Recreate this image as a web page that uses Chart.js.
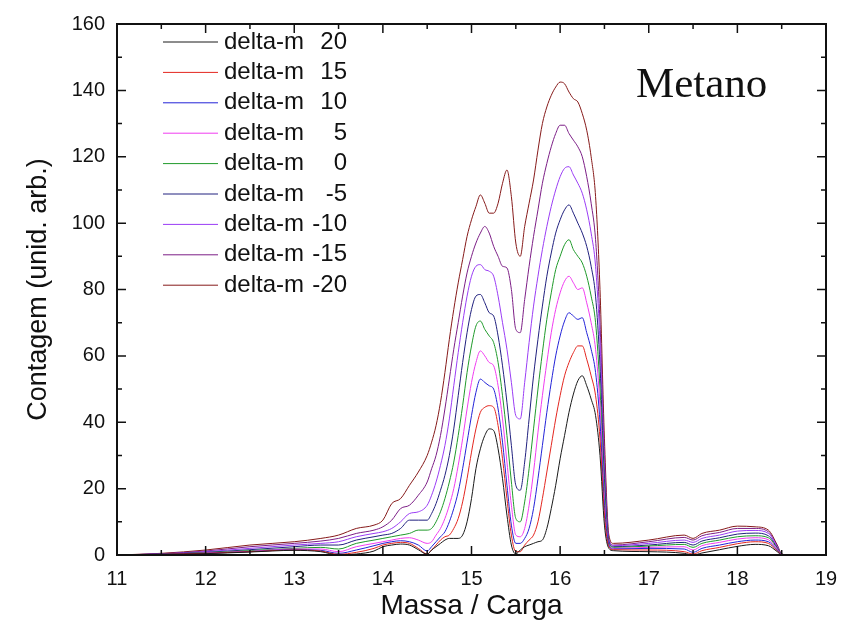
<!DOCTYPE html>
<html>
<head>
<meta charset="utf-8">
<script src="https://cdn.jsdelivr.net/npm/chart.js@4.4.1/dist/chart.umd.min.js"></script>
<style>
  html, body { margin: 0; padding: 0; background: #fff; }
</style>
</head>
<body>
<canvas id="chart" width="842" height="633"></canvas>
<script>
// mass axis (shared by every curve)
const massa = [11, 11.5, 12, 12.5, 13, 13.3, 13.5, 13.7, 13.9, 14, 14.1, 14.2, 14.3, 14.4,
  14.5, 14.55, 14.6, 14.65, 14.7, 14.75, 14.8, 14.85, 14.9, 14.95,
  15, 15.05, 15.1, 15.15, 15.2, 15.25, 15.3, 15.35, 15.4, 15.45,
  15.5, 15.55, 15.6, 15.65, 15.7, 15.75, 15.8, 15.85, 15.9, 15.95,
  16, 16.05, 16.1, 16.15, 16.2, 16.25, 16.3, 16.35, 16.4, 16.45, 16.5, 16.55,
  16.6, 17, 17.4, 17.5, 17.6, 17.8, 18, 18.2, 18.35, 18.45, 18.5, 18.6, 19];

const dm20 = [0, 0.2, 0.4, 0.9, 1.4, 1, 0, 0.3, 1.2, 2.5, 3, 3.3, 3, 1.6,
  0.2, 1.5, 2.5, 3.5, 4.5, 5, 5, 5, 6, 10,
  17, 26, 32, 36, 38, 37.5, 32, 23, 12, 3,
  0.3, 1.5, 2.5, 3, 3.5, 4, 4.5, 8, 14, 21,
  29, 36, 43, 48.5, 52.5, 54, 51, 47, 42, 30, 9, 2,
  1.3, 1, 0.5, 0, 0.6, 1.6, 2.6, 3.2, 2.8, 1, 0, 0, 0];

const dm15 = [0, 0.2, 0.5, 1, 1.5, 1.2, 0.2, 0.8, 2, 3, 3.5, 3.8, 3.5, 2,
  0.3, 1.5, 3, 4.5, 5.5, 6, 8, 11, 16, 23,
  31, 38, 43, 44.5, 45, 44.5, 39, 29, 17, 6,
  1, 1, 3, 4.5, 6, 10, 17, 25, 33, 41,
  48, 54, 58, 61, 63, 63, 59, 54, 48, 35, 12, 2.5,
  1.6, 1.5, 1, 0.3, 1.3, 2.3, 3.4, 4, 3.5, 1.3, 0.1, 0, 0];

const dm10 = [0, 0.2, 0.5, 1, 1.6, 1.4, 0.5, 1.5, 2.8, 3.5, 4, 4.3, 4, 3,
  1.2, 2.5, 4, 5.5, 7, 10, 14, 19, 26, 34,
  42, 49, 53, 52, 51, 50, 44, 34, 21, 9,
  3.5, 3.5, 5, 8, 14, 23, 33, 43, 52, 60,
  66, 70.5, 73, 72, 71, 71.5, 67, 62, 55, 40, 15, 3,
  1.8, 2, 1.8, 0.8, 2, 3, 4, 4.5, 4, 1.5, 0.1, 0, 0];

const dm5 = [0, 0.2, 0.6, 1.1, 1.8, 1.8, 1, 2.5, 3.5, 4, 4.5, 5, 5.2, 4.5,
  3.5, 4, 6, 8, 11, 15, 20, 27, 35, 44,
  52, 58, 61.5, 60, 58, 57, 51, 41, 28, 15,
  6, 5.5, 8, 15, 25, 37, 48, 58, 67, 74,
  79, 82.5, 84, 82, 80, 80.5, 76, 70, 62, 45, 17, 3,
  2, 2.3, 2.5, 1.5, 2.8, 3.8, 4.8, 5.2, 4.6, 1.8, 0.1, 0, 0];

const dm0 = [0, 0.2, 0.7, 1.3, 2, 2.3, 1.8, 3.5, 4.5, 5, 5.5, 6, 6.5, 7.5,
  7.5, 8, 10, 13, 17, 22, 28, 36, 45, 55,
  63, 69, 70.5, 68, 66, 64, 58, 48, 36, 22,
  11, 10, 16, 26, 38, 50, 61, 71, 79, 86,
  90, 93.5, 95, 92, 90, 88, 84, 78, 70, 50, 20, 3.5,
  2.3, 2.7, 3.2, 2.3, 3.5, 4.5, 5.5, 5.8, 5.2, 2, 0.2, 0, 0];

const dmNeg5 = [0, 0.3, 0.8, 1.6, 2.5, 3, 3, 4.5, 5.5, 6, 6.5, 8, 10.5, 10.5,
  10.5, 12.5, 15.5, 19.5, 24, 30, 38, 48, 58, 67,
  74, 78, 78.5, 76, 73, 72, 66, 57, 46, 33,
  21, 19.5, 28, 41, 54, 65, 75, 84, 91, 97,
  101, 104, 105.5, 103, 100, 97, 93, 87, 78, 57, 23, 4,
  2.5, 3, 3.8, 3, 4.2, 5.2, 6.3, 6.6, 5.8, 2.2, 0.2, 0, 0];

const dmNeg10 = [0, 0.3, 1, 2, 3, 3.5, 4, 5.5, 6.5, 7, 8, 10, 12.5, 13,
  15, 18, 22, 27, 33, 41, 51, 61, 70, 78,
  84, 87, 87.5, 86, 85.5, 84, 78, 70, 62, 52,
  42, 41, 52, 64, 75, 84, 92, 99, 105, 110,
  114, 116.5, 117, 114.5, 112, 109, 104, 97, 87, 64, 26, 4.5,
  2.8, 3.5, 4.5, 3.8, 5, 6, 7.2, 7.4, 6.5, 2.5, 0.2, 0, 0];

const dmNeg15 = [0, 0.4, 1.2, 2.5, 3.5, 4.2, 5, 6.5, 7.5, 8.5, 10.5, 14, 15, 18,
  22, 26, 30, 36, 44, 53, 62, 70, 78, 85,
  90, 94, 97, 99, 97, 93, 90, 87, 86.5, 80,
  68, 67, 77, 87, 96, 104, 112, 118, 123, 127,
  129.5, 129.5, 127, 125, 123, 120, 114, 106, 95, 70, 30, 5,
  3, 4, 5.3, 4.5, 5.8, 6.8, 8, 8, 7, 2.8, 0.3, 0, 0];

const dmNeg20 = [0, 0.5, 1.5, 3, 4, 5, 6, 8, 9, 10.5, 15.5, 17, 21, 25,
  30, 34, 39, 46, 55, 65, 74, 82, 89, 96,
  101, 105, 108.5, 106, 103, 103, 106, 112, 116, 108,
  94, 90, 99, 106, 113, 122, 130, 135, 138.5, 141,
  142.5, 142, 139.5, 137.5, 136.5, 133, 128, 120, 108, 80, 35, 6,
  3.5, 4.5, 6, 5, 6.5, 7.5, 8.7, 8.5, 7.5, 3, 0.3, 0, 0];

const series = [dm20, dm15, dm10, dm5, dm0, dmNeg5, dmNeg10, dmNeg15, dmNeg20];
const legendValues = ['20', '15', '10', '5', '0', '-5', '-10', '-15', '-20'];
const seriesColors = ['#1a1a1a', '#e3261f', '#2323d8', '#f03cf0', '#1f9a2a',
  '#20207e', '#9a3cf5', '#7c1e86', '#861a1a'];

const xTicks = [11, 12, 13, 14, 15, 16, 17, 18, 19];
const yTicks = [0, 20, 40, 60, 80, 100, 120, 140, 160];

const sans = "'Liberation Sans', Arial, sans-serif";
const serif = "'Liberation Serif', 'Times New Roman', serif";

// frame, inward ticks, legend and the "Metano" label
const framePlugin = {
  id: 'framePlugin',
  afterDatasetsDraw(chart) {
    const { ctx, chartArea: a, scales: { x, y } } = chart;
    ctx.save();
    ctx.strokeStyle = '#111';
    ctx.lineWidth = 1.5;
    ctx.beginPath();
    for (let i = 0; i < xTicks.length; i++) {
      const v = xTicks[i];
      const px = x.getPixelForValue(v);
      ctx.moveTo(px, a.bottom); ctx.lineTo(px, a.bottom - 9);
      ctx.moveTo(px, a.top); ctx.lineTo(px, a.top + 9);
      if (i < xTicks.length - 1) {
        const mx = x.getPixelForValue(v + 0.5);
        ctx.moveTo(mx, a.bottom); ctx.lineTo(mx, a.bottom - 5);
        ctx.moveTo(mx, a.top); ctx.lineTo(mx, a.top + 5);
      }
    }
    for (let i = 0; i < yTicks.length; i++) {
      const v = yTicks[i];
      const py = y.getPixelForValue(v);
      ctx.moveTo(a.left, py); ctx.lineTo(a.left + 9, py);
      ctx.moveTo(a.right, py); ctx.lineTo(a.right - 9, py);
      if (i < yTicks.length - 1) {
        const my = y.getPixelForValue(v + 10);
        ctx.moveTo(a.left, my); ctx.lineTo(a.left + 5, my);
        ctx.moveTo(a.right, my); ctx.lineTo(a.right - 5, my);
      }
    }
    ctx.stroke();
    ctx.lineWidth = 2;
    ctx.strokeRect(a.left, a.top, a.width, a.height);

    // legend
    ctx.font = '24px ' + sans;
    ctx.textBaseline = 'middle';
    ctx.fillStyle = '#111';
    legendValues.forEach((val, i) => {
      const ly = 42 + i * 30.4;
      ctx.strokeStyle = seriesColors[i];
      ctx.lineWidth = 1;
      ctx.beginPath();
      ctx.moveTo(163, ly);
      ctx.lineTo(218, ly);
      ctx.stroke();
      ctx.textAlign = 'left';
      ctx.fillText('delta-m', 224, ly);
      ctx.textAlign = 'right';
      ctx.fillText(val, 347, ly);
    });

    ctx.font = '43px ' + serif;
    ctx.textAlign = 'left';
    ctx.fillText('Metano', 636, 86);
    ctx.restore();
  }
};

new Chart(document.getElementById('chart'), {
  type: 'line',
  data: {
    datasets: series.map((vals, i) => ({
      label: 'delta-m ' + legendValues[i],
      data: massa.map((m, k) => ({ x: m, y: vals[k] })),
      borderColor: seriesColors[i],
      borderWidth: 1,
      pointRadius: 0,
      fill: false,
      cubicInterpolationMode: 'monotone'
    }))
  },
  options: {
    responsive: false,
    animation: false,
    layout: { padding: { top: 22, right: 16, left: 0, bottom: 0 } },
    plugins: { legend: { display: false }, tooltip: { enabled: false } },
    scales: {
      x: {
        type: 'linear', min: 11, max: 19,
        afterFit: s => { s.height = 78; s.paddingLeft = 0; s.paddingRight = 0; },
        grid: { display: false, drawTicks: false },
        border: { display: false },
        ticks: { stepSize: 1, padding: 12, maxRotation: 0, color: '#111', font: { family: sans, size: 20 } },
        title: { display: true, text: 'Massa / Carga', color: '#111', font: { family: sans, size: 28 }, padding: { top: 0, bottom: 10 } }
      },
      y: {
        min: 0, max: 160,
        afterFit: s => { s.width = 117; },
        grid: { display: false, drawTicks: false },
        border: { display: false },
        ticks: { stepSize: 20, padding: 12, color: '#111', font: { family: sans, size: 20 } },
        title: { display: true, text: 'Contagem (unid. arb.)', color: '#111', font: { family: sans, size: 27 }, padding: { top: 22, bottom: 0 } }
      }
    }
  },
  plugins: [framePlugin]
});
</script>
</body>
</html>
